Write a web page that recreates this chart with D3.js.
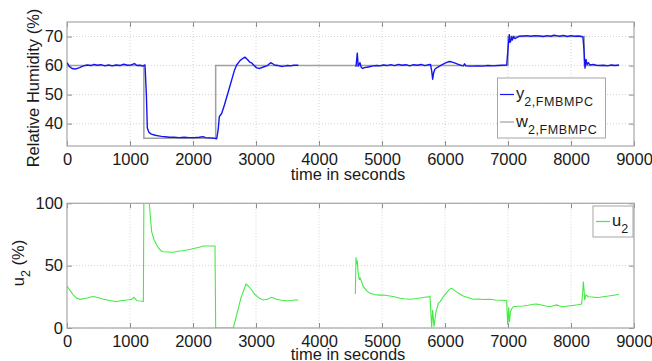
<!DOCTYPE html>
<html>
<head>
<meta charset="utf-8">
<style>
  body { margin: 0; background: #fff; }
  #chart { font-family: 'Liberation Sans', Arial, sans-serif; }
  #chart .grid line { stroke: #d4d4d4; stroke-dasharray: 1,2; }
  #chart .tick line { stroke: #8c8c8c; }
  #chart .tick text { fill: #1a1a1a; font-size: 16.5px; }
  #chart .lbl { fill: #1a1a1a; font-size: 16.5px; }
</style>
</head>
<body>
<div id="chart"></div>
<script src="https://d3js.org/d3.v7.min.js"></script>
<script>
  // time axis ticks (seconds)
  var timeTicks = [0, 1000, 2000, 3000, 4000, 5000, 6000, 7000, 8000, 9000];
  var humTicks = [40, 50, 60, 70];
  var uTicks = [0, 50, 100];

  // y_2,FMBMPC  [t, %]  (null = no data)
  var y2 = [
    [0, 61.0], [40, 59.6], [80, 59.0], [130, 58.8], [200, 59.3], [260, 59.9], [320, 60.2],
    [380, 60.0], [430, 60.4], [480, 60.1], [540, 60.3], [600, 59.9], [660, 60.2], [720, 59.9],
    [780, 60.2], [840, 60.0], [900, 60.5], [960, 60.1], [1020, 60.2], [1070, 60.7], [1110, 60.0],
    [1160, 60.1], [1200, 59.8], [1238, 60.2], [1260, 50], [1275, 38.5], [1300, 37.0], [1340, 36.4],
    [1400, 36.0], [1450, 35.8], [1500, 35.6], [1560, 35.5], [1620, 35.3], [1700, 35.3], [1780, 35.2],
    [1860, 35.3], [1940, 35.2], [2020, 35.2], [2100, 35.3], [2160, 35.5], [2200, 35.2], [2260, 35.1],
    [2320, 35.0], [2376, 34.8], [2400, 38], [2418, 42.4], [2455, 43.5], [2500, 46.5], [2560, 51],
    [2620, 55.5], [2660, 58.5], [2693, 60.2], [2750, 61.8], [2800, 62.6], [2825, 62.9], [2860, 62.2],
    [2900, 61.2], [2931, 60.9], [2970, 60.0], [3011, 59.2], [3060, 59.0], [3117, 59.5], [3180, 60.0],
    [3233, 61.0], [3260, 60.7], [3300, 60.1], [3350, 60.0], [3400, 59.7], [3450, 59.8], [3500, 60.0],
    [3550, 59.9], [3600, 60.1], [3672, 60.1], [3673, null],
    [4587, 59.6], [4608, 64.3], [4622, 59.8], [4650, 61.0], [4670, 59.4], [4693, 59.0], [4720, 59.3],
    [4757, 59.4], [4800, 59.6], [4862, 59.9], [4920, 60.0], [4970, 59.9], [5021, 60.2], [5080, 60.0],
    [5140, 60.3], [5200, 60.0], [5260, 60.4], [5320, 60.1], [5380, 60.3], [5440, 59.9], [5500, 60.3],
    [5560, 60.1], [5620, 60.4], [5680, 60.0], [5740, 60.3], [5770, 60.4], [5790, 58], [5804, 55.3],
    [5820, 57.5], [5841, 58.8], [5880, 59.4], [5921, 59.9], [5970, 60.5], [6020, 61.0], [6069, 61.4],
    [6100, 61.3], [6150, 60.9], [6200, 60.5], [6238, 60.2], [6270, 60.0], [6291, 59.9], [6310, 60.6],
    [6330, 59.9], [6380, 59.8], [6450, 59.8], [6520, 59.9], [6600, 59.8], [6680, 60.0], [6760, 59.9],
    [6840, 60.0], [6920, 60.1], [6979, 60.2], [7005, 67.1], [7021, 70.6], [7032, 68.0], [7042, 68.3],
    [7058, 69.9], [7070, 68.8], [7090, 70.0], [7110, 69.3], [7138, 69.6], [7180, 70.1], [7243, 70.2],
    [7300, 70.3], [7360, 70.1], [7420, 70.3], [7508, 70.2], [7560, 70.0], [7620, 70.3], [7680, 70.1],
    [7730, 70.5], [7772, 70.3], [7820, 70.1], [7880, 70.4], [7940, 70.0], [8000, 70.3], [8060, 70.1],
    [8120, 70.2], [8169, 70.0], [8190, 69.8], [8206, 65.4], [8222, 59.1], [8238, 62.1], [8255, 60.3],
    [8275, 61.0], [8300, 60.2], [8354, 60.4], [8400, 60.1], [8460, 60.0], [8520, 60.1], [8580, 59.9],
    [8640, 60.2], [8700, 60.0], [8762, 60.2]
  ];

  // w_2,FMBMPC set point (steps)
  var wTime = [0, 1220, 2360, 7000, 8210, 8762];
  var wVal = [60, 35, 60, 70, 60, 60];

  // u_2 [t, %]
  var u2 = [
    [0, 33.7], [50, 30], [100, 26.5], [150, 24], [206, 23], [260, 23.5], [320, 24], [380, 24.8],
    [418, 25.2], [470, 24.6], [530, 23.8], [577, 23], [640, 22.5], [700, 21.8], [788, 21.1],
    [850, 21.8], [920, 22.3], [980, 22.6], [1026, 23], [1063, 24.6], [1090, 23], [1116, 21.9],
    [1160, 21.6], [1212, 21.4], [1222, 120], [1290, 110], [1310, 98], [1330, 85], [1344, 77.2],
    [1380, 71], [1423, 66.6], [1450, 64.5], [1490, 62], [1529, 61.2], [1600, 61], [1688, 60.8],
    [1760, 61.5], [1830, 62], [1900, 62.6], [1960, 63.2], [2030, 64], [2100, 64.8], [2164, 65.8],
    [2250, 65.8], [2349, 65.8], [2360, 0], [2640, 0], [2700, 12], [2760, 24], [2841, 35.3],
    [2880, 33.5], [2931, 30.5], [2980, 27], [3011, 25.7], [3053, 23.8], [3117, 22.5], [3180, 23],
    [3249, 24.6], [3290, 23.8], [3328, 23], [3400, 22.3], [3487, 21.9], [3560, 22.1], [3620, 22.4],
    [3672, 22.5], [3673, null],
    [4577, 27.3], [4587, 56.7], [4597, 52], [4608, 53.2], [4620, 45], [4640, 38.5], [4652, 40.2],
    [4667, 38.5], [4704, 33.2], [4760, 29.8], [4810, 27.8], [4880, 26.8], [4950, 26.4], [5021, 26.5],
    [5100, 25.8], [5180, 25.2], [5286, 23.9], [5360, 23.4], [5444, 23], [5520, 23.4], [5600, 24.1],
    [5680, 24.6], [5762, 25.1], [5788, 0.5], [5804, 14.4], [5825, 1], [5857, 13.1], [5894, 19.8],
    [5921, 21], [5974, 25.1], [6030, 28.5], [6069, 31], [6106, 31.8], [6150, 30.2], [6210, 28],
    [6291, 25.7], [6370, 24.2], [6450, 23], [6530, 23.2], [6600, 22.9], [6714, 23], [6800, 22.5],
    [6900, 22.2], [6979, 21.9], [6995, 2.4], [7011, 16.6], [7021, 4.6], [7042, 13.6], [7060, 15.5],
    [7085, 17.1], [7150, 17.5], [7243, 17.6], [7320, 18.2], [7400, 19], [7455, 19.2], [7530, 18.4],
    [7600, 17.6], [7667, 17.1], [7720, 17.8], [7772, 18.5], [7820, 17.6], [7878, 17.1], [7950, 17.6],
    [8030, 18.1], [8100, 18.6], [8169, 19.2], [8185, 28], [8196, 37.2], [8208, 30], [8217, 22.5],
    [8238, 26.5], [8275, 25.1], [8340, 24.9], [8400, 24.5], [8460, 24.6], [8540, 25.2], [8620, 25.8],
    [8700, 26.5], [8762, 27]
  ];

  var width = 652, height = 361;
  var left = 67, right = 634;
  var svg = d3.select("#chart").append("svg")
    .attr("width", width).attr("height", height);

  var x = d3.scaleLinear().domain([0, 9000]).range([left, right]);
  var yTop = d3.scaleLinear().domain([32.3, 75]).range([146, 22]);
  var yBot = d3.scaleLinear().domain([0, 100]).range([328, 203.3]);

  function panel(id, y, yTicks) {
    var g = svg.append("g");
    var top = y.range()[1], bot = y.range()[0];

    svg.append("clipPath").attr("id", id)
      .append("rect").attr("x", left).attr("y", top)
      .attr("width", right - left).attr("height", bot - top);

    // grid
    var grid = g.append("g").attr("class", "grid");
    grid.selectAll(".gx").data(timeTicks.slice(1, -1)).enter().append("line")
      .attr("x1", function(d) { return x(d); }).attr("x2", function(d) { return x(d); })
      .attr("y1", top).attr("y2", bot);
    grid.selectAll(".gy").data(yTicks).enter().append("line")
      .attr("x1", left).attr("x2", right)
      .attr("y1", function(d) { return y(d); }).attr("y2", function(d) { return y(d); });

    g.append("g").attr("transform", "translate(0," + bot + ")")
      .call(d3.axisBottom(x).tickValues(timeTicks).tickSize(-5).tickPadding(7).tickFormat(d3.format("d")))
      .call(function(a) { a.select(".domain").remove(); });
    g.append("g").attr("transform", "translate(0," + top + ")")
      .call(d3.axisTop(x).tickValues(timeTicks).tickSize(-5).tickFormat(""))
      .call(function(a) { a.select(".domain").remove(); });
    g.append("g").attr("transform", "translate(" + left + ",0)")
      .call(d3.axisLeft(y).tickValues(yTicks).tickSize(-5).tickPadding(4))
      .call(function(a) { a.select(".domain").remove(); });
    g.append("g").attr("transform", "translate(" + right + ",0)")
      .call(d3.axisRight(y).tickValues(yTicks).tickSize(-5).tickFormat(""))
      .call(function(a) { a.select(".domain").remove(); });

    g.selectAll("text").attr("font-family", null).attr("font-size", null);

    g.append("rect").attr("x", left).attr("y", top)
      .attr("width", right - left).attr("height", bot - top)
      .attr("fill", "none").attr("stroke", "#a6a6a6").attr("stroke-width", 1.2);

    return svg.append("g").attr("clip-path", "url(#" + id + ")");
  }

  // ---- top: relative humidity
  var plotTop = panel("clipTop", yTop, humTicks);
  var wData = wTime.map(function(t, i) { return [t, wVal[i]]; });
  plotTop.append("path").datum(wData)
    .attr("fill", "none").attr("stroke", "#a0a0a0").attr("stroke-width", 1.5)
    .attr("d", d3.line().curve(d3.curveStepAfter)
      .x(function(d) { return x(d[0]); }).y(function(d) { return yTop(d[1]); }));
  plotTop.append("path").datum(y2)
    .attr("fill", "none").attr("stroke", "#1414f5").attr("stroke-width", 1.4)
    .attr("stroke-linejoin", "round")
    .attr("d", d3.line().defined(function(d) { return d[1] != null; })
      .x(function(d) { return x(d[0]); }).y(function(d) { return yTop(d[1]); }));

  // ---- bottom: u2
  var plotBot = panel("clipBot", yBot, uTicks);
  plotBot.append("path").datum(u2)
    .attr("fill", "none").attr("stroke", "#44ea44").attr("stroke-width", 1.1)
    .attr("d", d3.line().defined(function(d) { return d[1] != null; })
      .x(function(d) { return x(d[0]); }).y(function(d) { return yBot(d[1]); }));

  // ---- axis labels
  svg.append("text").attr("class", "lbl").attr("x", 348).attr("y", 180)
    .attr("text-anchor", "middle").text("time in seconds");
  svg.append("text").attr("class", "lbl").attr("x", 348).attr("y", 360)
    .attr("text-anchor", "middle").text("time in seconds");
  svg.append("text").attr("class", "lbl").attr("text-anchor", "middle")
    .attr("transform", "translate(39,88) rotate(-90)").text("Relative Humidity (%)");
  var ul = svg.append("text").attr("class", "lbl").attr("text-anchor", "middle")
    .attr("transform", "translate(24,263) rotate(-90)");
  ul.append("tspan").text("u");
  ul.append("tspan").attr("dy", 6).attr("font-size", "12.5px").text("2");
  ul.append("tspan").attr("dy", -6).text(" (%)");

  // ---- legends
  function legendRow(g, lx, ly, color, main, sub) {
    g.append("line").attr("x1", lx).attr("x2", lx + 14).attr("y1", ly).attr("y2", ly)
      .attr("stroke", color).attr("stroke-width", 1.2);
    var t = g.append("text").attr("class", "lbl").attr("x", lx + 16).attr("y", ly + 4.5);
    t.append("tspan").text(main);
    t.append("tspan").attr("dy", 7).attr("font-size", "12.5px")
      .attr("letter-spacing", sub.length > 1 ? "0.6px" : null).text(sub);
  }
  var lg1 = svg.append("g");
  lg1.append("rect").attr("x", 497.5).attr("y", 78).attr("width", 108).attr("height", 60)
    .attr("fill", "#fff").attr("stroke", "#a6a6a6");
  legendRow(lg1, 500, 94.5, "#1414f5", "y", "2,FMBMPC");
  legendRow(lg1, 500, 122, "#a0a0a0", "w", "2,FMBMPC");

  var lg2 = svg.append("g");
  lg2.append("rect").attr("x", 593).attr("y", 206).attr("width", 40).attr("height", 31)
    .attr("fill", "#fff").attr("stroke", "#a6a6a6");
  legendRow(lg2, 596, 221.5, "#44ea44", "u", "2");
</script>
</body>
</html>
